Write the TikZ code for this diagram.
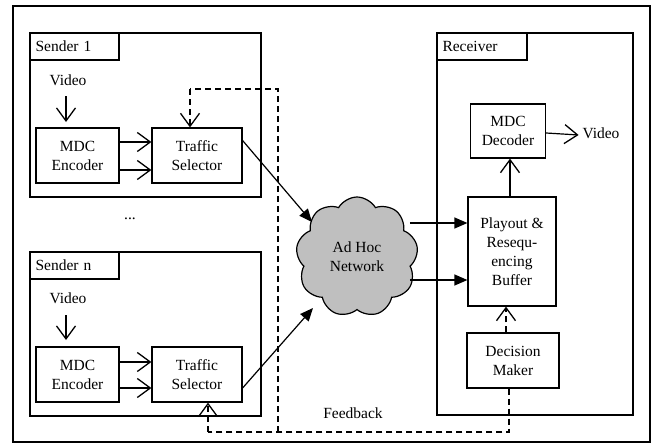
\documentclass[tikz,border=0pt]{standalone}
\usepackage{fontspec}
\setmainfont{Liberation Serif}
\usetikzlibrary{arrows.meta,shapes.symbols}
\begin{document}
\begin{tikzpicture}[x=1pt,y=-1pt,
  font=\fontsize{15.5}{19}\selectfont,
  line width=1.2pt,
  blk/.style={draw,inner sep=0pt,align=center},
  frame/.style={draw,inner sep=0pt},
  lab/.style={draw,inner sep=0pt,text width=84pt,align=left,minimum height=27pt},
  vee/.style={-{Straight Barb[length=13pt,width=19pt,line width=1.3pt]}},
  fill tip/.style={-{Triangle[length=13pt,width=11pt]}},
  dsh/.style={dash pattern=on 6pt off 4pt},
]
\useasboundingbox (0,0) rectangle (656,444);
\node[frame,minimum width=637pt,minimum height=436pt] (outer) at (331.5,224) {};

% Sender 1
\node[frame,minimum width=231pt,minimum height=164pt] (s1) at (145.5,115) {};
\node[lab,minimum width=89pt] (s1l) at (74.5,46.5) {\hspace*{3pt}Sender 1};
\node (v1) at (68,80) {Video};
\node[blk,minimum width=83pt,minimum height=55pt] (enc1) at (77.5,155.5) {MDC\\Encoder};
\node[blk,minimum width=90pt,minimum height=55pt] (ts1) at (197,155.5) {Traffic\\Selector};
\coordinate (v1a) at (66,96);
\draw[vee] (v1a) -- (v1a |- 0,122);
\draw[vee] ([shift={(0,-13.5)}]enc1.east) -- ([shift={(0,-13.5)}]ts1.west);
\draw[vee] ([shift={(0,14.5)}]enc1.east) -- ([shift={(0,14.5)}]ts1.west);

\node at (130,219) {...};

% Sender n
\node[frame,minimum width=231pt,minimum height=164pt] (sn) at (145.5,334) {};
\node[lab,minimum width=89pt] (snl) at (74.5,265.5) {\hspace*{3pt}Sender n};
\node (vn) at (68,298) {Video};
\node[blk,minimum width=83pt,minimum height=55pt] (enc2) at (77.5,374.5) {MDC\\Encoder};
\node[blk,minimum width=90pt,minimum height=55pt] (ts2) at (197,374.5) {Traffic\\Selector};
\coordinate (vna) at (66,315);
\draw[vee] (vna) -- (vna |- 0,340);
\draw[vee] ([shift={(0,-12.5)}]enc2.east) -- ([shift={(0,-12.5)}]ts2.west);
\draw[vee] ([shift={(0,13.5)}]enc2.east) -- ([shift={(0,13.5)}]ts2.west);

% Network
\node[cloud,draw,fill=black!25,cloud puffs=9,cloud puff arc=120,aspect=1,
      minimum width=122pt,minimum height=120pt,inner sep=0pt,align=center] (net) at (357,257) {Ad Hoc\\Network};
\draw[fill tip] ([shift={(0,-15)}]ts1.east) -- ([shift={(-45,-35)}]net.center);
\draw[fill tip] ([shift={(0,13.5)}]ts2.east) -- ([shift={(-44,51)}]net.center);

% Receiver
\node[frame,minimum width=196pt,minimum height=382pt] (rx) at (535,224) {};
\node[lab,minimum width=90pt,text width=85pt] (rxl) at (482,46.5) {\hspace*{3pt}Receiver};
\node[blk,minimum width=75pt,minimum height=54pt] (dec) at (508,131) {MDC\\Decoder};
\node (vout) at (601,133) {Video};
\node[blk,minimum width=88pt,minimum height=109pt] (buf) at (512,251.5) {Playout \&\\Resequ-\\encing\\Buffer};
\node[blk,minimum width=92pt,minimum height=55pt] (dm) at (513,360.5) {Decision\\Maker};

\draw[vee] ([xshift=-2pt]buf.north) -- ([xshift=-2pt]buf.north |- dec.south);
\draw[vee] ([yshift=-2pt]dec.east) -- ([yshift=-2pt]vout.west);

\coordinate (n1) at ([shift={(-7,-34)}]net.east);
\coordinate (n2) at ([shift={(-7,23)}]net.east);
\draw[fill tip] (n1) -- (n1 -| buf.west);
\draw[fill tip] (n2) -- (n2 -| buf.west);

% Feedback
\draw[dsh,vee] ([xshift=-7pt]dm.north) -- ([xshift=-7pt]dm.north |- buf.south);
\coordinate (fb) at (278,432);
\coordinate (fbr) at (509,432);
\coordinate (fbl) at (208,432);
\draw[dsh] ([xshift=-4pt]dm.south) -- (fbr) -- (fbl);
\draw[dsh,vee] (fbl) -- (fbl |- ts2.south);
\coordinate (ft) at (278,89);
\coordinate (ftl) at (190,89);
\draw[dsh] (fb) -- (ft) -- (ftl);
\draw[dsh,vee] (ftl) -- (ftl |- ts1.north);

\node (fbt) at (353,413) {Feedback};
\end{tikzpicture}
\end{document}
